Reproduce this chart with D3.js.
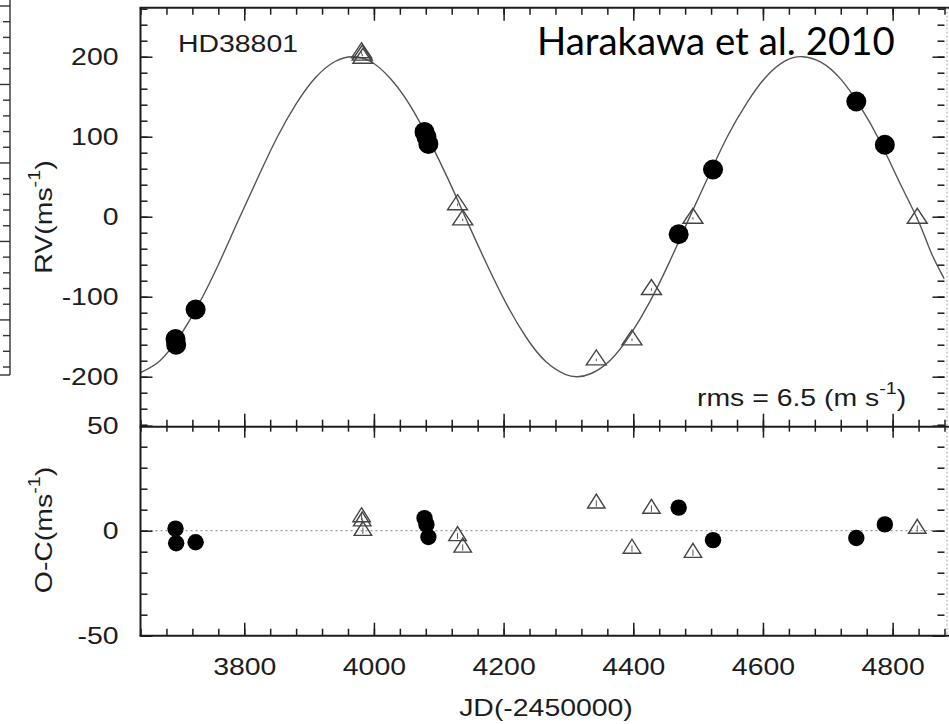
<!DOCTYPE html>
<html><head><meta charset="utf-8">
<script src="https://cdn.jsdelivr.net/npm/d3@7"></script>
<style>body{margin:0;background:#fff}svg{display:block}</style>
</head><body>
<svg id="c" width="949" height="724"></svg>
<script>
// ---- data ----
const xMajor = [3800, 4000, 4200, 4400, 4600, 4800];
const xLabels = ["3800", "4000", "4200", "4400", "4600", "4800"];
const rvMajor = [-200, -100, 0, 100, 200];
const rvLabels = ["-200", "-100", "0", "100", "200"];
const ocMajor = [-50, 0, 50];
const ocLabels = ["-50", "0", "50"];

// filled circles
const circJD = [3694, 3695, 3725, 4078, 4081, 4084, 4470, 4523, 4744, 4788];
const circRV = [-153, -160, -116, 106, 100, 91, -22, 59, 144, 90];
const circOC = [1, -6, -5.5, 6, 3, -3, 11, -4.5, -3.5, 3];

// open triangles
const triJD = [3981, 3982, 3983, 4129, 4137, 4343, 4398, 4428, 4492, 4838];
const triRV = [205, 202, 198, 15, -4, -179, -154, -91, -2, -2];
const triOC = [6.5, 4.5, 0, -2.5, -8, 13, -8.5, 10.5, -10.5, 1];
const triErr = [1.5, 1.5, 1.5, 1.5, 1.5, 1.5, 1.5, 1.5, 1.5, 1.5];

// orbital fit curve
const fitJD = [3640, 3670, 3700, 3730, 3760, 3790, 3820, 3850, 3880, 3910, 3940, 3967, 3995, 4025, 4055, 4085, 4115, 4145, 4175, 4205, 4235, 4265, 4295, 4314, 4335, 4365, 4395, 4425, 4455, 4485, 4515, 4545, 4575, 4605, 4635, 4661, 4690, 4720, 4750, 4780, 4810, 4840, 4860, 4880];
const fitRV = [-195, -180, -150, -109, -60, -6, 47, 98, 141, 174, 194, 200, 194, 173, 140, 96, 46, -8, -61, -110, -151, -181, -197, -200, -196, -179, -148, -107, -58, -4, 49, 100, 142, 175, 195, 200, 193, 172, 138, 95, 44, -6, -46, -78];

const starName = "HD38801";
const citation = "Harakawa et al. 2010";
const rmsText = "rms = 6.5 (m s";
const xTitle = "JD(-2450000)";

// ---- drawing ----
const svg = d3.select("#c");
const FONT = "'Liberation Sans', Arial, Helvetica, sans-serif";
const FS = 24.5, S = 1.16, INK = "#1c1c1c";

const x = d3.scaleLinear().domain([3640, 4880]).range([140.5, 944.5]);
const yU = d3.scaleLinear().domain([-262.5, 261.25]).range([426.7, 7.7]);
const yL = d3.scaleLinear().domain([-50, 50]).range([635.7, 425.7]);

const xMinor = d3.range(3640, 4881, 40);
const rvMinor = d3.range(-260, 261, 20);
const ocMinor = d3.range(-50, 51, 10);

// left ruler fragment (neighbouring figure)
const ruler = svg.append("g").attr("stroke", "#333").attr("stroke-width", 1.4);
ruler.append("line").attr("x1", 10).attr("x2", 10).attr("y1", 0).attr("y2", 375);
ruler.append("line").attr("x1", 0).attr("x2", 10).attr("y1", 375).attr("y2", 375);
const rs = d3.scaleLinear().domain([0, 23]).range([6, 367]);
ruler.selectAll("line.t").data(d3.range(0, 24)).join("line").attr("class", "t")
  .attr("x1", d => d % 5 === 0 ? 0 : 3).attr("x2", 10)
  .attr("y1", d => rs(d)).attr("y2", d => rs(d));

// clip
svg.append("clipPath").attr("id", "clipU").append("rect")
  .attr("x", x(3640)).attr("y", yU(261.25)).attr("width", x(4880) - x(3640)).attr("height", yU(-262.5) - yU(261.25));
svg.append("clipPath").attr("id", "clipL").append("rect")
  .attr("x", x(3640)).attr("y", yL(50)).attr("width", x(4880) - x(3640)).attr("height", yL(-50) - yL(50));

// dotted zero line in residual panel
svg.append("line").attr("x1", x(3640)).attr("x2", x(4880)).attr("y1", yL(0)).attr("y2", yL(0))
  .attr("stroke", "#999").attr("stroke-width", 1.3).attr("stroke-dasharray", "2,3");

// fit curve
const fit = fitJD.map((d, i) => [d, fitRV[i]]);
svg.append("path").datum(fit).attr("clip-path", "url(#clipU)")
  .attr("d", d3.line().x(d => x(d[0])).y(d => yU(d[1])).curve(d3.curveNatural))
  .attr("fill", "none").attr("stroke", "#555").attr("stroke-width", 1.4);

// markers
function tri(cx, cy, w, h) {
  return `M${cx - w / 2},${cy + h / 3}L${cx + w / 2},${cy + h / 3}L${cx},${cy - 2 * h / 3}Z`;
}
const tris = triJD.map((d, i) => ({ jd: d, rv: triRV[i], oc: triOC[i], e: triErr[i] }));
const circs = circJD.map((d, i) => ({ jd: d, rv: circRV[i], oc: circOC[i] }));

function drawPanel(yS, key, r, tw, th, clip) {
  const g = svg.append("g").attr("clip-path", clip);
  g.selectAll("line.err").data(tris).join("line").attr("class", "err")
    .attr("x1", d => x(d.jd)).attr("x2", d => x(d.jd))
    .attr("y1", d => yS(d[key] - d.e)).attr("y2", d => yS(d[key] + d.e))
    .attr("stroke", "#555").attr("stroke-width", 1);
  g.selectAll("path.tri").data(tris).join("path").attr("class", "tri")
    .attr("d", d => tri(x(d.jd), yS(d[key]), tw, th))
    .attr("fill", "none").attr("stroke", "#444").attr("stroke-width", 1.4);
  g.selectAll("circle").data(circs).join("circle")
    .attr("cx", d => x(d.jd)).attr("cy", d => yS(d[key])).attr("r", r).attr("fill", "#000");
}
drawPanel(yU, "rv", 10, 20, 15, "url(#clipU)");
drawPanel(yL, "oc", 8.2, 17.5, 14, "url(#clipL)");

// ticks
function ticks(axis, tr) {
  const g = svg.append("g").attr("transform", tr).call(axis);
  g.select(".domain").remove();
  g.selectAll(".tick line").attr("stroke", INK).attr("stroke-width", 1.5);
  return g;
}
const noLab = () => "";
// upper panel
ticks(d3.axisLeft(yU).tickValues(rvMinor).tickSize(-7).tickFormat(noLab), `translate(${x(3640)},0)`);
ticks(d3.axisRight(yU).tickValues(rvMinor).tickSize(-7).tickFormat(noLab), `translate(${x(4880)},0)`);
ticks(d3.axisRight(yU).tickValues(rvMajor).tickSize(-12).tickFormat(noLab), `translate(${x(4880)},0)`);
const gUL = ticks(d3.axisLeft(yU).tickValues(rvMajor).tickSizeInner(-12).tickSizeOuter(0).tickPadding(22)
  .tickFormat((d, i) => rvLabels[i]), `translate(${x(3640)},0)`);
ticks(d3.axisTop(x).tickValues(xMinor).tickSize(-7).tickFormat(noLab), `translate(0,${yU(261.25)})`);
ticks(d3.axisTop(x).tickValues(xMajor).tickSize(-13).tickFormat(noLab), `translate(0,${yU(261.25)})`);
ticks(d3.axisBottom(x).tickValues(xMinor).tickSize(-7).tickFormat(noLab), `translate(0,${yU(-262.5)})`);
ticks(d3.axisBottom(x).tickValues(xMajor).tickSize(-13).tickFormat(noLab), `translate(0,${yU(-262.5)})`);
// lower panel
ticks(d3.axisLeft(yL).tickValues(ocMinor).tickSize(-7).tickFormat(noLab), `translate(${x(3640)},0)`);
ticks(d3.axisRight(yL).tickValues(ocMinor).tickSize(-7).tickFormat(noLab), `translate(${x(4880)},0)`);
ticks(d3.axisRight(yL).tickValues(ocMajor).tickSize(-12).tickFormat(noLab), `translate(${x(4880)},0)`);
const gLL = ticks(d3.axisLeft(yL).tickValues(ocMajor).tickSizeInner(-12).tickSizeOuter(0).tickPadding(22)
  .tickFormat((d, i) => ocLabels[i]), `translate(${x(3640)},0)`);
ticks(d3.axisTop(x).tickValues(xMinor).tickSize(-6).tickFormat(noLab), `translate(0,${yL(50)})`);
ticks(d3.axisTop(x).tickValues(xMajor).tickSize(-12).tickFormat(noLab), `translate(0,${yL(50)})`);
ticks(d3.axisBottom(x).tickValues(xMinor).tickSize(-7).tickFormat(noLab), `translate(0,${yL(-50)})`);
const gLB = ticks(d3.axisBottom(x).tickValues(xMajor).tickSizeInner(-13).tickSizeOuter(0).tickPadding(22)
  .tickFormat((d, i) => xLabels[i]), `translate(0,${yL(-50)})`);

[gUL, gLL, gLB].forEach(g => {
  g.attr("font-family", FONT).attr("font-size", FS);
  g.selectAll("text").attr("fill", INK).attr("transform", `scale(${S},1)`);
});
gUL.selectAll("text").attr("x", -22 / S);
gLL.selectAll("text").attr("x", -22 / S);

// frame
const fr = svg.append("g").attr("stroke", INK).attr("stroke-width", 2).attr("fill", "none");
fr.append("line").attr("x1", x(3640)).attr("x2", x(3640)).attr("y1", yU(261.25)).attr("y2", yL(-50));
fr.append("line").attr("x1", x(3640) - 1).attr("x2", 949).attr("y1", yU(261.25)).attr("y2", yU(261.25));
fr.append("line").attr("x1", x(3640) - 1).attr("x2", 949).attr("y1", yU(-262.5)).attr("y2", yU(-262.5));
fr.append("line").attr("x1", x(3640) - 1).attr("x2", 949).attr("y1", yL(-50)).attr("y2", yL(-50));
svg.append("line").attr("x1", x(4880) + 2.5).attr("x2", x(4880) + 2.5).attr("y1", yU(261.25)).attr("y2", yL(-50))
  .attr("stroke", "#aaa").attr("stroke-width", 1).attr("stroke-dasharray", "2,2");

// texts
function label(tr, anchor, parts, size) {
  const t = svg.append("text").attr("transform", tr).attr("text-anchor", anchor)
    .attr("font-family", FONT).attr("font-size", size || FS).attr("fill", INK);
  parts.forEach(p => {
    const s = t.append("tspan").text(p.t);
    if (p.dy) s.attr("dy", p.dy);
    if (p.fs) s.attr("font-size", p.fs);
  });
  return t;
}
label(`translate(178,52) scale(${S},1)`, "start", [{ t: starName }]);
label(`translate(697,406) scale(${S},1)`, "start",
  [{ t: rmsText }, { t: "-1", dy: -12, fs: 17 }, { t: ")", dy: 12 }]);
label(`translate(52,217) rotate(-90) scale(${S},1)`, "middle",
  [{ t: "RV(ms" }, { t: "-1", dy: -12, fs: 17 }, { t: ")", dy: 12 }]);
label(`translate(52,530) rotate(-90) scale(${S},1)`, "middle",
  [{ t: "O-C(ms" }, { t: "-1", dy: -12, fs: 17 }, { t: ")", dy: 12 }]);
label(`translate(546,716) scale(${S},1)`, "middle", [{ t: xTitle }]);

// citation overlay
const cit = svg.append("text").attr("x", 537).attr("y", 55)
  .attr("font-family", "Lato, 'Open Sans', sans-serif").attr("font-size", 40).attr("fill", "#000").text(citation);
const w = cit.node().getComputedTextLength();
cit.attr("font-size", 40 * 358 / w);
</script>
</body></html>
